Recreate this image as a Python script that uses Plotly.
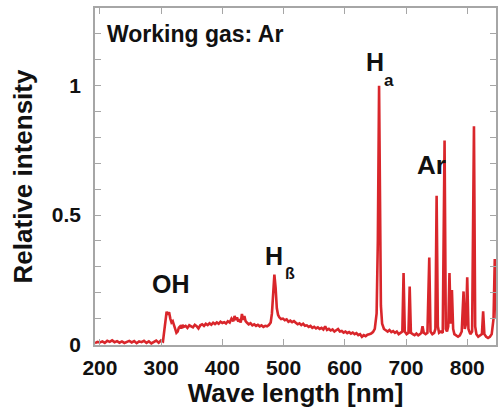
import plotly.graph_objects as go

wavelength = [
    192, 196, 200, 204, 208, 212, 216, 220, 224, 228, 232, 236, 240, 244, 248, 252, 256, 260, 264, 268,
    272, 276, 280, 284, 288, 292, 296, 300, 303, 305, 307, 309, 311, 313, 315, 317, 319, 321, 323, 325,
    327, 329, 331, 333, 335, 337, 340, 343, 346, 349, 352, 355, 358, 361, 364, 367, 370, 373, 376, 379,
    382, 385, 388, 391, 394, 397, 400, 403, 406, 409, 412, 415, 418, 420, 422, 424, 426, 428, 430, 432,
    434, 436, 438, 440, 443, 446, 449, 452, 455, 458, 461, 464, 467, 470, 473, 476, 479, 481, 483, 485,
    487, 489, 491, 493, 496, 499, 502, 505, 508, 511, 514, 517, 520, 523, 526, 529, 532, 535, 538, 541,
    544, 547, 550, 553, 556, 559, 562, 565, 568, 571, 574, 577, 580, 583, 586, 589, 592, 595, 598, 601,
    604, 607, 610, 613, 616, 619, 622, 625, 628, 631, 634, 637, 640, 643, 646, 649, 652, 654, 656, 657.5,
    659, 661, 664, 667, 670, 673, 676, 679, 682, 685, 688, 691, 694, 696, 698, 701, 704, 706, 708, 711,
    714, 717, 720, 723, 725, 727, 729, 732, 735, 738, 740, 743, 746, 748, 750, 752, 754, 757, 760, 763,
    765, 767, 769, 771, 773, 775, 777, 779, 782, 785, 788, 791, 794, 796, 798, 800, 802, 805, 808, 811,
    813, 815, 818, 821, 824, 826, 828, 831, 834, 837, 840, 843, 845, 848,
]

intensity = [
    0.005, 0.010, 0.008, 0.012, 0.006, 0.014, 0.010, 0.016, 0.009, 0.013, 0.007, 0.012, 0.006, 0.011, 0.014, 0.008, 0.013, 0.005, 0.012, 0.009,
    0.014, 0.006, 0.012, 0.004, 0.011, 0.015, 0.007, 0.016, 0.012, 0.050, 0.110, 0.127, 0.115, 0.125, 0.100, 0.085, 0.090, 0.075, 0.060, 0.045,
    0.050, 0.065, 0.070, 0.062, 0.075, 0.068, 0.072, 0.064, 0.074, 0.070, 0.066, 0.076, 0.071, 0.062, 0.074, 0.078, 0.072, 0.080, 0.075, 0.082,
    0.076, 0.084, 0.079, 0.085, 0.080, 0.088, 0.083, 0.086, 0.081, 0.090, 0.085, 0.100, 0.090, 0.110, 0.095, 0.105, 0.088, 0.098, 0.085, 0.118,
    0.095, 0.110, 0.090, 0.085, 0.078, 0.082, 0.074, 0.078, 0.072, 0.076, 0.070, 0.074, 0.068, 0.072, 0.070, 0.075, 0.085, 0.120, 0.200, 0.270,
    0.220, 0.140, 0.115, 0.105, 0.098, 0.100, 0.094, 0.097, 0.088, 0.092, 0.086, 0.090, 0.084, 0.078, 0.082, 0.075, 0.080, 0.072, 0.074, 0.068,
    0.072, 0.064, 0.068, 0.062, 0.066, 0.060, 0.064, 0.058, 0.070, 0.056, 0.060, 0.054, 0.058, 0.050, 0.055, 0.060, 0.050, 0.052, 0.046, 0.050,
    0.044, 0.048, 0.042, 0.046, 0.040, 0.044, 0.036, 0.040, 0.030, 0.036, 0.032, 0.038, 0.040, 0.042, 0.048, 0.060, 0.120, 0.400, 1.000, 0.500,
    0.150, 0.080, 0.060, 0.055, 0.050, 0.056, 0.048, 0.052, 0.045, 0.050, 0.040, 0.045, 0.050, 0.276, 0.050, 0.040, 0.045, 0.224, 0.045, 0.040,
    0.036, 0.042, 0.035, 0.040, 0.045, 0.070, 0.045, 0.040, 0.045, 0.336, 0.050, 0.040, 0.045, 0.060, 0.575, 0.070, 0.045, 0.050, 0.045, 0.788,
    0.060, 0.050, 0.070, 0.276, 0.080, 0.210, 0.060, 0.040, 0.035, 0.030, 0.035, 0.050, 0.205, 0.060, 0.080, 0.260, 0.060, 0.040, 0.050, 0.843,
    0.070, 0.040, 0.030, 0.035, 0.040, 0.128, 0.040, 0.030, 0.025, 0.030, 0.040, 0.100, 0.330, 0.100,
]

x_ticks = [200, 300, 400, 500, 600, 700, 800]
x_ticktext = ["200", "300", "400", "500", "600", "700", "800"]
y_ticks = [0, 0.1, 0.2, 0.3, 0.4, 0.5, 0.6, 0.7, 0.8, 0.9, 1.0, 1.1, 1.2, 1.3]
y_ticktext = ["0", "", "", "", "", "0.5", "", "", "", "", "1", "", "", ""]

FONT = "Liberation Sans, Arial, sans-serif"
TXT = "#111111"
AX = "#a6a6a6"

fig = go.Figure()
fig.add_trace(go.Scatter(
    x=wavelength, y=intensity, mode="lines",
    line=dict(color="#d9262b", width=2.6),
    showlegend=False, hoverinfo="skip",
))

labels = [
    dict(text="Working gas: Ar", x=208, y=1.20, size=23, xanchor="left"),
    dict(text="H", x=649, y=1.093, size=25, xanchor="center"),
    dict(text="a", x=671.5, y=1.019, size=17, xanchor="center"),
    dict(text="H", x=484.6, y=0.34, size=25, xanchor="center"),
    dict(text="ß", x=510.6, y=0.274, size=16, xanchor="center"),
    dict(text="OH", x=315.4, y=0.235, size=25, xanchor="center"),
    dict(text="Ar", x=741.5, y=0.695, size=26, xanchor="center"),
]
for a in labels:
    fig.add_annotation(
        x=a["x"], y=a["y"], xref="x", yref="y", text=a["text"], showarrow=False,
        xanchor=a["xanchor"], yanchor="middle",
        font=dict(family=FONT, size=a["size"], color=TXT, weight="bold"),
    )

fig.update_layout(
    width=499, height=408,
    margin=dict(l=95, r=1, t=8, b=63),
    paper_bgcolor="white", plot_bgcolor="white",
    font=dict(family=FONT, color=TXT),
    xaxis=dict(
        range=[192, 847], tickvals=x_ticks, ticktext=x_ticktext, ticks="inside", ticklen=6, tickcolor=AX,
        showline=True, linecolor=AX, linewidth=1.5, mirror="ticks", showgrid=False, zeroline=False,
        tickfont=dict(family=FONT, size=21, color=TXT, weight="bold"), ticklabelstandoff=3,
        title=dict(text="Wave length [nm]", font=dict(family=FONT, size=26, color=TXT, weight="bold"), standoff=8),
    ),
    yaxis=dict(
        range=[-0.002, 1.3], tickvals=y_ticks, ticktext=y_ticktext, ticks="inside", ticklen=6, tickcolor=AX,
        showline=True, linecolor=AX, linewidth=1.5, mirror="ticks", showgrid=False, zeroline=False,
        tickfont=dict(family=FONT, size=21, color=TXT, weight="bold"), ticklabelstandoff=8,
        title=dict(text="Relative intensity", font=dict(family=FONT, size=26, color=TXT, weight="bold"), standoff=12),
    ),
)

fig.write_html("out.html")
